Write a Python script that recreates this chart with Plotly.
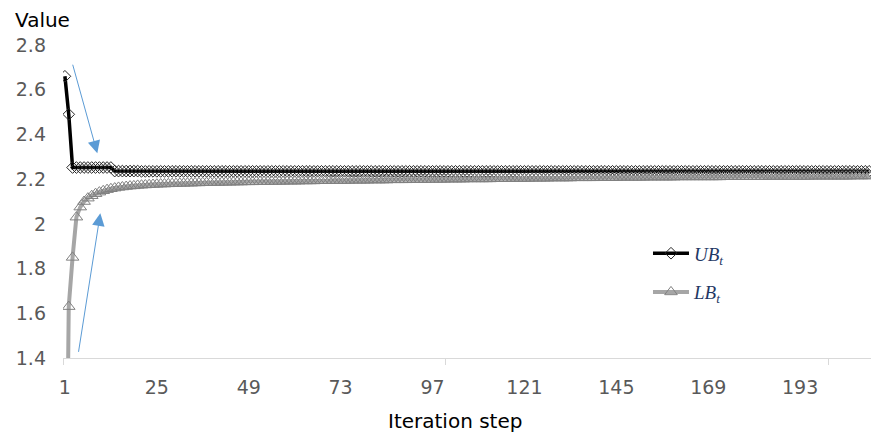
import plotly.graph_objects as go

steps = list(range(1, 212))

ub_values = [
    2.66, 2.49, 2.252, 2.252, 2.252, 2.252, 2.252, 2.252, 2.252, 2.252,
    2.252, 2.252, 2.252, 2.236, 2.236, 2.236, 2.236, 2.236, 2.236, 2.236,
    2.235, 2.235, 2.235, 2.235, 2.235, 2.235, 2.235, 2.235, 2.235, 2.235,
    2.235, 2.235, 2.235, 2.235, 2.235, 2.235, 2.235, 2.235, 2.235, 2.235,
    2.235, 2.235, 2.235, 2.235, 2.235, 2.235, 2.235, 2.235, 2.235, 2.235,
    2.235, 2.235, 2.235, 2.235, 2.235, 2.235, 2.235, 2.235, 2.235, 2.235,
    2.235, 2.235, 2.235, 2.235, 2.235, 2.235, 2.235, 2.235, 2.235, 2.235,
    2.235, 2.235, 2.235, 2.235, 2.235, 2.235, 2.235, 2.235, 2.235, 2.235,
    2.235, 2.235, 2.235, 2.235, 2.235, 2.235, 2.235, 2.235, 2.235, 2.235,
    2.235, 2.235, 2.235, 2.235, 2.235, 2.235, 2.235, 2.235, 2.235, 2.235,
    2.235, 2.235, 2.235, 2.235, 2.235, 2.235, 2.235, 2.235, 2.235, 2.235,
    2.235, 2.235, 2.235, 2.235, 2.235, 2.235, 2.235, 2.235, 2.235, 2.235,
    2.235, 2.235, 2.235, 2.235, 2.235, 2.235, 2.235, 2.235, 2.235, 2.235,
    2.235, 2.235, 2.235, 2.235, 2.235, 2.235, 2.235, 2.235, 2.235, 2.235,
    2.235, 2.235, 2.235, 2.235, 2.235, 2.235, 2.235, 2.235, 2.235, 2.235,
    2.235, 2.235, 2.235, 2.235, 2.235, 2.235, 2.235, 2.235, 2.235, 2.235,
    2.235, 2.235, 2.235, 2.235, 2.235, 2.235, 2.235, 2.235, 2.235, 2.235,
    2.235, 2.235, 2.235, 2.235, 2.235, 2.235, 2.235, 2.235, 2.235, 2.235,
    2.235, 2.235, 2.235, 2.235, 2.235, 2.235, 2.235, 2.235, 2.235, 2.235,
    2.235, 2.235, 2.235, 2.235, 2.235, 2.235, 2.235, 2.235, 2.235, 2.235,
    2.235, 2.235, 2.235, 2.235, 2.235, 2.235, 2.235, 2.235, 2.235, 2.235,
    2.235,
]

lb_values = [
    0.0, 1.63, 1.85, 2.03, 2.075, 2.10, 2.115, 2.126, 2.135, 2.142,
    2.148, 2.153, 2.157, 2.160, 2.163, 2.165, 2.167, 2.169, 2.170, 2.172,
    2.173, 2.174, 2.175, 2.176, 2.177, 2.178, 2.178, 2.179, 2.180, 2.180,
    2.181, 2.181, 2.182, 2.182, 2.183, 2.183, 2.184, 2.184, 2.185, 2.185,
    2.185, 2.186, 2.186, 2.186, 2.187, 2.187, 2.187, 2.188, 2.188, 2.188,
    2.189, 2.189, 2.189, 2.189, 2.190, 2.190, 2.190, 2.190, 2.191, 2.191,
    2.191, 2.191, 2.192, 2.192, 2.192, 2.192, 2.193, 2.193, 2.193, 2.193,
    2.194, 2.194, 2.194, 2.194, 2.194, 2.195, 2.195, 2.195, 2.195, 2.195,
    2.196, 2.196, 2.196, 2.196, 2.196, 2.197, 2.197, 2.197, 2.197, 2.197,
    2.198, 2.198, 2.198, 2.198, 2.198, 2.199, 2.199, 2.199, 2.199, 2.199,
    2.200, 2.200, 2.200, 2.200, 2.200, 2.201, 2.201, 2.201, 2.201, 2.201,
    2.201, 2.201, 2.202, 2.202, 2.202, 2.202, 2.202, 2.203, 2.203, 2.203,
    2.203, 2.203, 2.204, 2.204, 2.204, 2.204, 2.204, 2.205, 2.205, 2.205,
    2.205, 2.205, 2.205, 2.206, 2.206, 2.206, 2.206, 2.206, 2.206, 2.207,
    2.207, 2.207, 2.207, 2.207, 2.207, 2.208, 2.208, 2.208, 2.208, 2.208,
    2.208, 2.208, 2.209, 2.209, 2.209, 2.209, 2.209, 2.209, 2.209, 2.209,
    2.210, 2.210, 2.210, 2.210, 2.210, 2.210, 2.210, 2.210, 2.210, 2.210,
    2.210, 2.210, 2.211, 2.211, 2.211, 2.211, 2.211, 2.211, 2.211, 2.211,
    2.211, 2.211, 2.211, 2.212, 2.212, 2.212, 2.212, 2.212, 2.212, 2.212,
    2.212, 2.212, 2.212, 2.212, 2.212, 2.213, 2.213, 2.213, 2.213, 2.213,
    2.213, 2.213, 2.213, 2.213, 2.213, 2.213, 2.214, 2.214, 2.214, 2.214,
    2.214,
]

x_tick_vals = [1, 25, 49, 73, 97, 121, 145, 169, 193]
x_tick_text = ["1", "25", "49", "73", "97", "121", "145", "169", "193"]
y_tick_vals = [1.4, 1.6, 1.8, 2.0, 2.2, 2.4, 2.6, 2.8]
y_tick_text = ["1.4", "1.6", "1.8", "2", "2.2", "2.4", "2.6", "2.8"]

fig = go.Figure()

fig.add_trace(go.Scatter(
    x=steps, y=ub_values, mode="lines+markers",
    name="<i>UB</i><sub><i>t</i></sub>", legendgroup="ub",
    line=dict(color="#000000", width=3.5),
    marker=dict(symbol="diamond-open", size=9, color="#262626",
                line=dict(width=1, color="#262626")),
))
fig.add_trace(go.Scatter(
    x=steps, y=lb_values, mode="lines+markers",
    name="<i>LB</i><sub><i>t</i></sub>", legendgroup="lb",
    line=dict(color="#a6a6a6", width=4),
    marker=dict(symbol="triangle-up-open", size=11, color="#808080",
                line=dict(width=1, color="#808080")),
))

arrow_color = "#5b9bd5"
fig.add_annotation(x=9.46, y=2.316, ax=-25, ay=-90, text="", showarrow=True,
                   arrowhead=2, arrowsize=2.5, arrowwidth=1, arrowcolor=arrow_color,
                   standoff=0)
fig.add_annotation(x=10.24, y=2.047, ax=-22, ay=140, text="", showarrow=True,
                   arrowhead=2, arrowsize=2.5, arrowwidth=1, arrowcolor=arrow_color,
                   standoff=0)

fig.add_annotation(text="Value", xref="paper", yref="paper", x=-0.0254, y=1.08,
                   xanchor="center", yanchor="middle", showarrow=False,
                   font=dict(family="DejaVu Sans", size=20, color="#000000"))
fig.add_annotation(text="Iteration step", xref="paper", yref="paper", x=0.485, y=-0.201,
                   xanchor="center", yanchor="middle", showarrow=False,
                   font=dict(family="DejaVu Sans", size=20, color="#000000"))

fig.update_layout(
    width=871, height=438,
    margin=dict(l=63, r=0, t=45, b=80),
    plot_bgcolor="white", paper_bgcolor="white",
    font=dict(family="DejaVu Sans", size=19, color="#595959"),
    showlegend=True,
    legend=dict(x=0.724, y=0.395, xanchor="left", yanchor="top",
                font=dict(family="Liberation Serif", size=19, color="#1f3864"),
                itemwidth=36, tracegroupgap=11, bgcolor="rgba(0,0,0,0)"),
    xaxis=dict(range=[0.5, 211.5], tickvals=x_tick_vals, ticktext=x_tick_text,
               ticks="", showgrid=False, zeroline=False, showline=True,
               linecolor="#d9d9d9", linewidth=1, ticklabelstandoff=12,
               minor=dict(tickvals=[0.5, 100.5, 200.5], ticks="outside",
                          ticklen=6, tickcolor="#d9d9d9", showgrid=False)),
    yaxis=dict(range=[1.4, 2.8], tickvals=y_tick_vals, ticktext=y_tick_text,
               ticks="", showgrid=False, zeroline=False, showline=False,
               ticklabelstandoff=16),
)

fig.write_html("out.html", config={"displayModeBar": False},
               post_script="document.body.style.margin='0';")
